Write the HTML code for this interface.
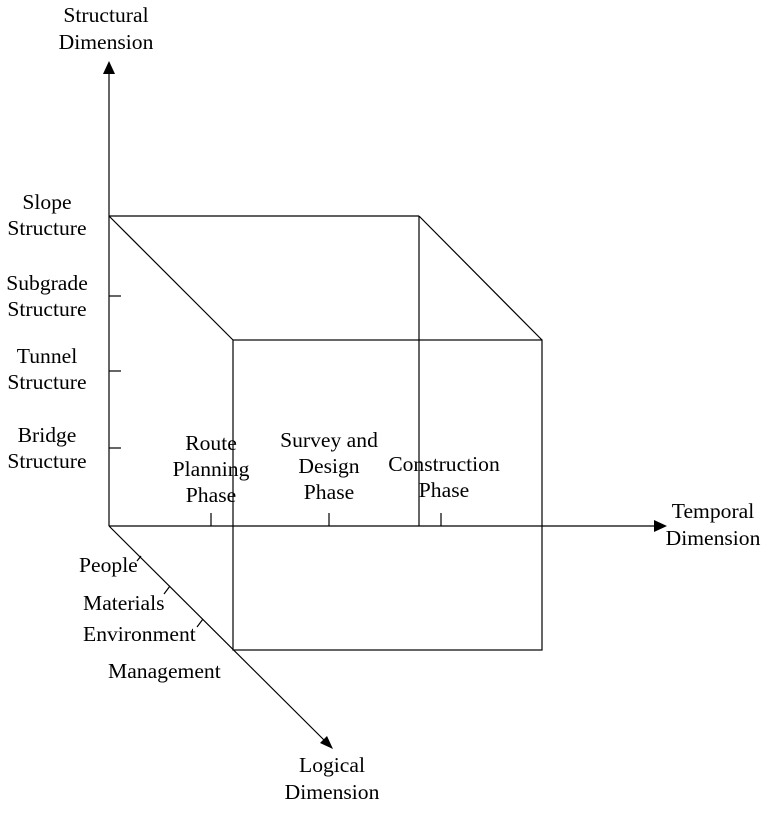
<!DOCTYPE html>
<html><head><style>
body{margin:0;background:#fff}
svg text{font-family:"Liberation Serif",serif;font-size:21.6px;fill:#000}
</style></head><body>
<svg width="768" height="808" viewBox="0 0 768 808" xmlns="http://www.w3.org/2000/svg">
<g stroke="#000" stroke-width="1.2" fill="none">
<line x1="109" y1="72" x2="109" y2="526"/>
<line x1="109" y1="526" x2="656" y2="526"/>
<line x1="109" y1="526" x2="324" y2="740"/>
<line x1="109" y1="216" x2="419" y2="216"/>
<line x1="419" y1="216" x2="419" y2="526"/>
<line x1="109" y1="216" x2="233" y2="340"/>
<line x1="419" y1="216" x2="542" y2="340"/>
<rect x="233" y="340" width="309" height="310"/>
<line x1="109" y1="296" x2="121" y2="296"/>
<line x1="109" y1="371" x2="121" y2="371"/>
<line x1="109" y1="448" x2="121" y2="448"/>
<line x1="211" y1="513" x2="211" y2="526"/>
<line x1="329" y1="513" x2="329" y2="526"/>
<line x1="441" y1="513" x2="441" y2="526"/>
<line x1="137" y1="561" x2="141" y2="556"/>
<line x1="164" y1="594" x2="170" y2="586"/>
<line x1="197" y1="627" x2="203" y2="619"/>
</g>
<polygon points="109,61 103,74 115,74" fill="#000"/>
<polygon points="667,526 654,520 654,532" fill="#000"/>
<polygon points="333,749 320,743 327,736" fill="#000"/>
<g text-anchor="middle">
<text x="106" y="22">Structural</text><text x="106" y="49">Dimension</text>
<text x="47" y="209">Slope</text><text x="47" y="235">Structure</text>
<text x="47" y="290">Subgrade</text><text x="47" y="316">Structure</text>
<text x="47" y="363">Tunnel</text><text x="47" y="389">Structure</text>
<text x="47" y="442">Bridge</text><text x="47" y="468">Structure</text>
<text x="211" y="450">Route</text><text x="211" y="476">Planning</text><text x="211" y="502">Phase</text>
<text x="329" y="447">Survey and</text><text x="329" y="473">Design</text><text x="329" y="499">Phase</text>
<text x="444" y="471">Construction</text><text x="444" y="497">Phase</text>
<text x="713" y="518">Temporal</text><text x="713" y="545">Dimension</text>
<text x="332" y="772">Logical</text><text x="332" y="799">Dimension</text>
</g>
<text x="79" y="572">People</text>
<text x="83" y="610">Materials</text>
<text x="83" y="641">Environment</text>
<text x="108" y="678">Management</text>
</svg>
</body></html>
